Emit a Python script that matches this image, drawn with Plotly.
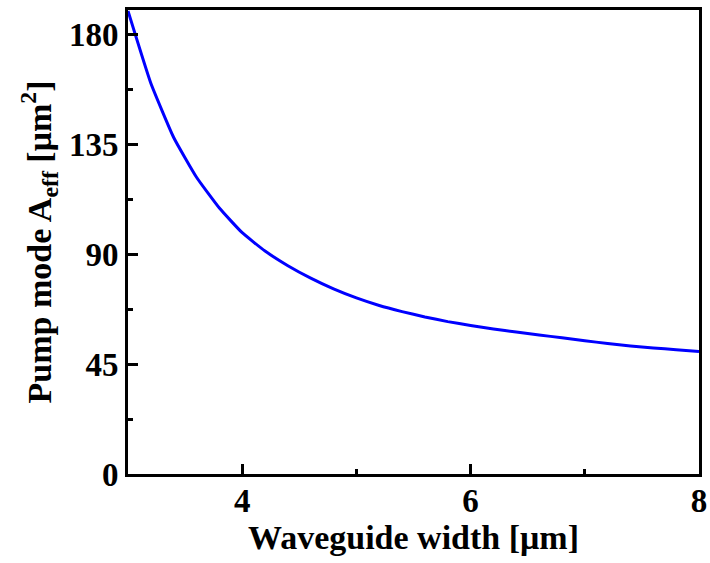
import plotly.graph_objects as go

width_um = [3.0, 3.2, 3.4, 3.6, 3.8, 4.0, 4.2, 4.4, 4.6, 4.8, 5.0, 5.2, 5.4, 5.6, 5.8,
            6.0, 6.2, 6.4, 6.6, 6.8, 7.0, 7.2, 7.4, 7.6, 7.8, 8.0]
aeff = [189.6, 160.0, 137.8, 121.5, 108.9, 98.8, 91.3, 85.3, 80.2, 75.8, 72.1, 69.0, 66.5,
        64.3, 62.4, 60.8, 59.4, 58.1, 56.9, 55.8, 54.6, 53.4, 52.4, 51.6, 50.9, 50.2]

font_family = "Liberation Serif"

fig = go.Figure()
fig.add_trace(go.Scatter(x=width_um, y=aeff, mode="lines",
                         line=dict(color="#0000FF", width=3, shape="spline", smoothing=0.4),
                         showlegend=False, cliponaxis=True))

axis_common = dict(
    showline=True, linecolor="black", linewidth=3, mirror=True,
    ticks="inside", ticklen=10, tickwidth=3, tickcolor="black",
    showgrid=False, zeroline=False, automargin=False,
    tickfont=dict(family=font_family, size=33, color="black", weight="bold"),
)

fig.update_xaxes(range=[3, 8], tick0=4, dtick=2, ticklabelstandoff=-5,
                 minor=dict(ticks="inside", ticklen=5, tickwidth=3, dtick=1, tick0=3, tickcolor="black"),
                 title=dict(text="<b>Waveguide width [μm]</b>", standoff=6,
                            font=dict(family=font_family, size=34, color="black")),
                 **axis_common)
fig.update_yaxes(range=[0, 190], tick0=0, dtick=45,
                 minor=dict(ticks="inside", ticklen=5, tickwidth=3, dtick=22.5, tick0=0, tickcolor="black"),
                 title=dict(text="<b>Pump mode A<sub>eff</sub> [μm<sup>2</sup>]</b>", standoff=8,
                            font=dict(family=font_family, size=34, color="black")),
                 **axis_common)

fig.update_layout(width=710, height=563, margin=dict(l=128, r=11, t=10, b=89),
                  plot_bgcolor="white", paper_bgcolor="white")

fig.write_html("out.html")
